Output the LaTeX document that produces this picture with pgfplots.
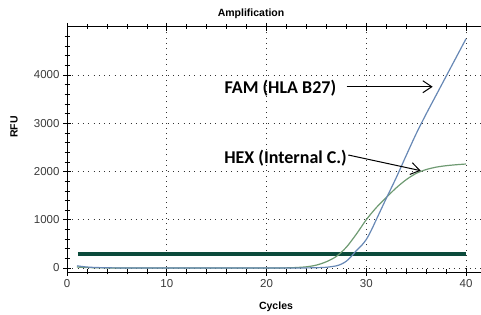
\documentclass[border=0pt]{standalone}
\usepackage{pgfplots}
\pgfplotsset{compat=1.18}
\usepackage{fontspec}
\setmainfont{Liberation Sans}
\newfontfamily\calib{Carlito}
\usetikzlibrary{arrows.meta}
\definecolor{famblue}{HTML}{6788B5}
\definecolor{hexgreen}{HTML}{6E9A72}
\definecolor{thr}{HTML}{0B4A3B}
\definecolor{ticklab}{HTML}{3A3A3A}
\begin{document}
\begin{tikzpicture}
\useasboundingbox (0,0) rectangle (481pt,314pt);
\begin{axis}[
  x=9.975pt, y=0.04825pt,
  anchor=origin, at={(67pt,46pt)},
  xmin=0, xmax=41.5, ymin=-80, ymax=5000,
  axis x line=box, axis y line=left,
  x axis line style={-}, y axis line style={-},
  every outer y axis line/.append style={-},
  axis line style={black, line width=0.7pt},
  xtick={0,10,...,40}, ytick={0,1000,...,4000},
  minor xtick={2,4,...,38}, minor ytick={200,400,...,4800},
  tick align=center, major tick length=8pt, minor tick length=5pt,
  tick style={black, line width=0.6pt},
  grid=major,
  major grid style={black!80, line width=0.6pt, dash pattern=on 0.9pt off 4.4pt},
  minor grid style={draw=none},
  scaled y ticks=false,
  /pgf/number format/1000 sep={},
  /pgf/number format/assume math mode=true,
  tick label style={font=\fontsize{11.5}{12}\selectfont, text=ticklab},
  clip=false,
]
\addplot[thr, line width=4pt] coordinates {(1.1,300) (40,300)};
\addplot[hexgreen, line width=1.2pt, smooth] coordinates {
(1,20) (2,10) (3,5) (4,2) (6,0) (10,0) (15,0) (20,0) (22,3) (23,10) (24,25)
(25,60) (26,130) (27,240) (28,430) (29,700) (30,1000) (31,1250) (32,1460)
(33,1660) (34,1830) (35,1960) (36,2040) (37,2090) (38,2120) (39,2140) (40,2155)};
\addplot[famblue, line width=1.2pt, smooth] coordinates {
(1,45) (2,20) (3,10) (4,5) (5,2) (7,0) (10,0) (15,0) (20,0) (23,0) (24,2)
(25,6) (26,15) (27,45) (27.5,80) (28,140) (28.5,240) (29,360) (29.5,460)
(30,590) (30.5,780) (31,1000) (32,1440) (33,1870) (34,2330) (35,2780)
(36,3190) (37,3580) (38,3970) (39,4360) (40,4750)};
\node[anchor=east, inner sep=0pt, font=\calib\bfseries\fontsize{18}{20}\selectfont] at (axis cs:27,3730) {FAM (HLA B27)};
\node[anchor=east, inner sep=0pt, font=\calib\bfseries\fontsize{18}{20}\selectfont] at (axis cs:28.07,2280) {HEX (Internal C.)};
\draw[line width=1pt, -{Straight Barb[length=9pt,width=12pt]}] (axis cs:28.04,3757) -- (axis cs:36.66,3757);
\draw[line width=1pt, -{Straight Barb[length=9pt,width=12pt]}] (axis cs:28.2,2342) -- (axis cs:35.46,2017);
\end{axis}
\node[font=\bfseries\fontsize{10.5}{12}\selectfont] at (251pt,300pt) {Amplification};
\node[font=\bfseries\fontsize{10.5}{12}\selectfont] at (276pt,7pt) {Cycles};
\node[font=\bfseries\fontsize{10.5}{12}\selectfont, rotate=90] at (14pt,187pt) {RFU};
\end{tikzpicture}
\end{document}
